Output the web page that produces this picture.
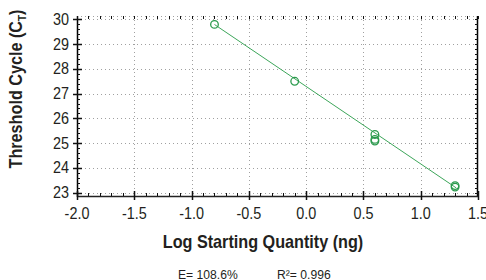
<!DOCTYPE html>
<html>
<head>
<meta charset="utf-8">
<script src="https://cdn.jsdelivr.net/npm/d3@7"></script>
<style>
  html, body { margin: 0; padding: 0; background: #fff; }
  svg { display: block; }
  text { font-family: "Liberation Sans", Arial, sans-serif; fill: #231f20; }
</style>
</head>
<body>
<div id="chart"></div>
<script>
// standard curve points (log quantity, Ct)
const logQty = [-0.8, -0.1, 0.6, 0.6, 0.6, 1.3, 1.3];
const ctValues = [29.8, 27.5, 25.35, 25.15, 25.08, 23.28, 23.22];

// fitted line
const fitSlope = -3.132;
const fitIntercept = 27.29;
const fitRange = [-0.8, 1.31];

const xTicks = [-2.0, -1.5, -1.0, -0.5, 0.0, 0.5, 1.0, 1.5];
const yTicks = [23, 24, 25, 26, 27, 28, 29, 30];
const xMinor = d3.range(-20, 16).map((i) => i / 10);
const yMinor = d3.range(115, 151).map((i) => i / 5);

const statsText = ["E= 108.6%", "R²= 0.996"];

const width = 486;
const height = 280;
const margin = { top: 16, right: 8, bottom: 84, left: 77 };
const narrow = 0.9; // fake a condensed face

const svg = d3
  .select("#chart")
  .append("svg")
  .attr("width", width)
  .attr("height", height);

const x = d3
  .scaleLinear()
  .domain([-2, 1.5])
  .range([margin.left, width - margin.right]);

const y = d3
  .scaleLinear()
  .domain([22.86, 30.14])
  .range([height - margin.bottom, margin.top]);

const xLeft = x.range()[0];
const xRight = x.range()[1];
const yTop = y.range()[1];
const yBottom = y.range()[0];

// dotted grid
const grid = svg.append("g").attr("stroke", "#a0a0a0").attr("stroke-width", 1)
  .attr("stroke-dasharray", "1,3");
grid.selectAll(".gx")
  .data(xTicks.slice(1, -1))
  .enter()
  .append("line")
  .attr("x1", (d) => Math.round(x(d)) + 0.5)
  .attr("x2", (d) => Math.round(x(d)) + 0.5)
  .attr("y1", yTop)
  .attr("y2", yBottom);
grid.selectAll(".gy")
  .data(yTicks.concat([y.domain()[1]]))
  .enter()
  .append("line")
  .attr("x1", xLeft)
  .attr("x2", xRight)
  .attr("y1", (d) => Math.round(y(d)) + 0.5)
  .attr("y2", (d) => Math.round(y(d)) + 0.5);

// axis lines
svg.append("line")
  .attr("x1", xLeft + 0.5).attr("x2", xLeft + 0.5)
  .attr("y1", yTop).attr("y2", yBottom + 1)
  .attr("stroke", "#000").attr("stroke-width", 1.5);
svg.append("line")
  .attr("x1", xRight - 0.5).attr("x2", xRight - 0.5)
  .attr("y1", yTop).attr("y2", yBottom + 1)
  .attr("stroke", "#000").attr("stroke-width", 1.5);
svg.append("line")
  .attr("x1", xLeft).attr("x2", xRight)
  .attr("y1", yBottom + 0.5).attr("y2", yBottom + 0.5)
  .attr("stroke", "#222").attr("stroke-width", 1.5);

// minor ticks (inside on all four sides)
const ticks = svg.append("g").attr("stroke", "#111").attr("stroke-width", 1);
ticks.selectAll(".mxb")
  .data(xMinor)
  .enter()
  .append("line")
  .attr("x1", (d) => Math.round(x(d)) + 0.5)
  .attr("x2", (d) => Math.round(x(d)) + 0.5)
  .attr("y1", yBottom)
  .attr("y2", yBottom - 3);
ticks.selectAll(".mxt")
  .data(xMinor)
  .enter()
  .append("line")
  .attr("x1", (d) => Math.round(x(d)) + 0.5)
  .attr("x2", (d) => Math.round(x(d)) + 0.5)
  .attr("y1", yTop)
  .attr("y2", yTop + 3);
ticks.selectAll(".myl")
  .data(yMinor)
  .enter()
  .append("line")
  .attr("x1", xLeft)
  .attr("x2", xLeft + 3)
  .attr("y1", (d) => Math.round(y(d)) + 0.5)
  .attr("y2", (d) => Math.round(y(d)) + 0.5);
ticks.selectAll(".myr")
  .data(yMinor)
  .enter()
  .append("line")
  .attr("x1", xRight)
  .attr("x2", xRight - 3)
  .attr("y1", (d) => Math.round(y(d)) + 0.5)
  .attr("y2", (d) => Math.round(y(d)) + 0.5);

// major ticks crossing the axes
ticks.selectAll(".Mx")
  .data(xTicks)
  .enter()
  .append("line")
  .attr("stroke-width", 1.5)
  .attr("x1", (d) => Math.round(x(d)) + 0.5)
  .attr("x2", (d) => Math.round(x(d)) + 0.5)
  .attr("y1", yBottom + 4)
  .attr("y2", yBottom - 5);
ticks.selectAll(".My")
  .data(yTicks)
  .enter()
  .append("line")
  .attr("stroke-width", 1.5)
  .attr("x1", xLeft - 4)
  .attr("x2", xLeft + 5)
  .attr("y1", (d) => Math.round(y(d)) + 0.5)
  .attr("y2", (d) => Math.round(y(d)) + 0.5);

// tick labels
svg.selectAll(".xl")
  .data(xTicks)
  .enter()
  .append("text")
  .attr("transform", (d) => `translate(${x(d)},${yBottom + 23}) scale(${narrow},1)`)
  .attr("text-anchor", "middle")
  .attr("font-size", 16)
  .text((d) => d3.format(".1f")(d).replace("−", "-"));
svg.selectAll(".yl")
  .data(yTicks)
  .enter()
  .append("text")
  .attr("transform", (d) => `translate(${xLeft - 8},${y(d) + 5.5}) scale(${narrow},1)`)
  .attr("text-anchor", "end")
  .attr("font-size", 16)
  .text((d) => d);

// fitted line
svg.append("line")
  .attr("x1", x(fitRange[0]))
  .attr("y1", y(fitIntercept + fitSlope * fitRange[0]))
  .attr("x2", x(fitRange[1]))
  .attr("y2", y(fitIntercept + fitSlope * fitRange[1]))
  .attr("stroke", "#3da65a")
  .attr("stroke-width", 1);

// data points
svg.selectAll(".pt")
  .data(logQty)
  .enter()
  .append("circle")
  .attr("cx", (d) => x(d))
  .attr("cy", (d, i) => y(ctValues[i]))
  .attr("r", 3.8)
  .attr("fill", "none")
  .attr("stroke", "#2a9a4c")
  .attr("stroke-width", 1.3);

// axis titles
svg.append("text")
  .attr("transform", `translate(263,248) scale(${narrow},1)`)
  .attr("text-anchor", "middle")
  .attr("font-size", 18)
  .attr("font-weight", "bold")
  .text("Log Starting Quantity (ng)");

const yTitle = svg.append("text")
  .attr("transform", `translate(22,89) rotate(-90) scale(${narrow},1)`)
  .attr("text-anchor", "middle")
  .attr("font-size", 18)
  .attr("font-weight", "bold");
yTitle.append("tspan").text("Threshold Cycle (C");
yTitle.append("tspan").attr("font-size", 11).attr("dy", 4).text("T");
yTitle.append("tspan").attr("dy", -4).text(")");

// efficiency and R²
svg.selectAll(".st")
  .data(statsText)
  .enter()
  .append("text")
  .attr("transform", (d, i) => `translate(${[178, 277][i]},279) scale(${narrow},1)`)
  .attr("font-size", 13.5)
  .text((d) => d);
</script>
</body>
</html>
